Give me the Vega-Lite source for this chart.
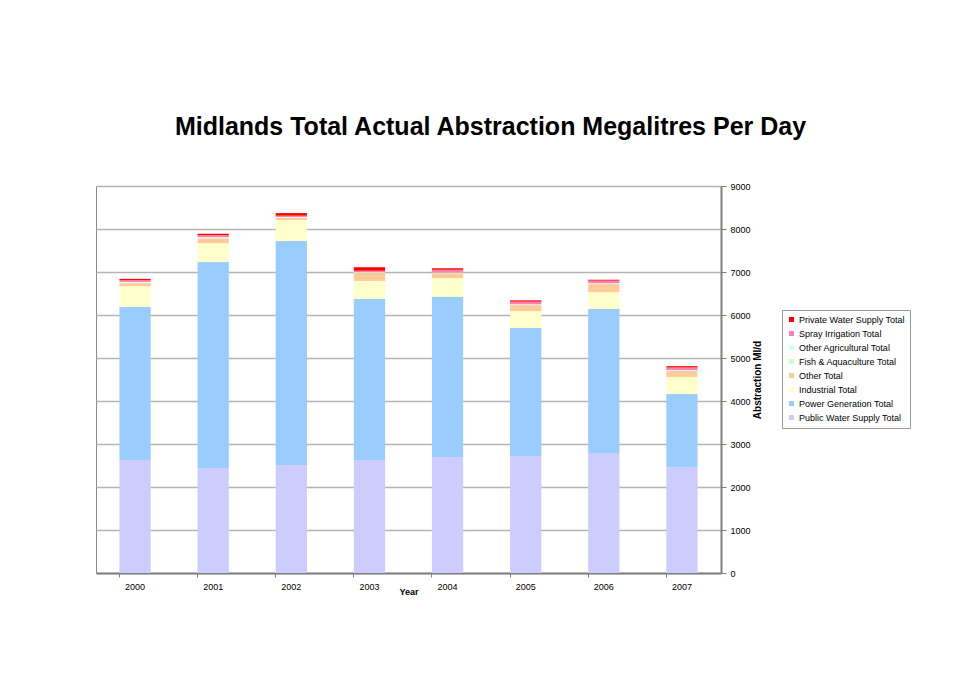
{
  "$schema": "https://vega.github.io/schema/vega-lite/v6.json",
  "autosize": "none",
  "width": 625,
  "height": 387,
  "padding": {"left": 96, "top": 186, "right": 240, "bottom": 113},
  "background": "white",
  "config": {
    "font": "Liberation Sans",
    "view": {"stroke": "#8c8c8c", "strokeWidth": 1}
  },
  "title": {
    "text": "Midlands Total Actual Abstraction Megalitres Per Day",
    "font": "Liberation Sans",
    "fontSize": 25,
    "fontWeight": "bold",
    "color": "black",
    "anchor": "middle",
    "frame": "group",
    "dx": 82,
    "offset": 42
  },
  "data": {
    "values": [
      {"Year": "2000", "Public Water Supply Total": 2630, "Power Generation Total": 3560, "Industrial Total": 480, "Other Total": 70, "Fish & Aquaculture Total": 10, "Other Agricultural Total": 20, "Spray Irrigation Total": 40, "Private Water Supply Total": 30},
      {"Year": "2001", "Public Water Supply Total": 2440, "Power Generation Total": 4790, "Industrial Total": 440, "Other Total": 110, "Fish & Aquaculture Total": 20, "Other Agricultural Total": 10, "Spray Irrigation Total": 50, "Private Water Supply Total": 30},
      {"Year": "2002", "Public Water Supply Total": 2510, "Power Generation Total": 5210, "Industrial Total": 490, "Other Total": 50, "Fish & Aquaculture Total": 10, "Other Agricultural Total": 10, "Spray Irrigation Total": 30, "Private Water Supply Total": 60},
      {"Year": "2003", "Public Water Supply Total": 2630, "Power Generation Total": 3740, "Industrial Total": 420, "Other Total": 190, "Fish & Aquaculture Total": 10, "Other Agricultural Total": 10, "Spray Irrigation Total": 30, "Private Water Supply Total": 80},
      {"Year": "2004", "Public Water Supply Total": 2700, "Power Generation Total": 3720, "Industrial Total": 440, "Other Total": 110, "Fish & Aquaculture Total": 10, "Other Agricultural Total": 10, "Spray Irrigation Total": 60, "Private Water Supply Total": 40},
      {"Year": "2005", "Public Water Supply Total": 2720, "Power Generation Total": 2980, "Industrial Total": 390, "Other Total": 140, "Fish & Aquaculture Total": 10, "Other Agricultural Total": 10, "Spray Irrigation Total": 60, "Private Water Supply Total": 30},
      {"Year": "2006", "Public Water Supply Total": 2790, "Power Generation Total": 3350, "Industrial Total": 390, "Other Total": 190, "Fish & Aquaculture Total": 10, "Other Agricultural Total": 10, "Spray Irrigation Total": 60, "Private Water Supply Total": 20},
      {"Year": "2007", "Public Water Supply Total": 2460, "Power Generation Total": 1700, "Industrial Total": 400, "Other Total": 140, "Fish & Aquaculture Total": 10, "Other Agricultural Total": 10, "Spray Irrigation Total": 60, "Private Water Supply Total": 30}
    ]
  },
  "transform": [
    {"fold": ["Public Water Supply Total", "Power Generation Total", "Industrial Total", "Other Total", "Fish & Aquaculture Total", "Other Agricultural Total", "Spray Irrigation Total", "Private Water Supply Total"], "as": ["Series", "Value"]},
    {"calculate": "indexof(['Public Water Supply Total', 'Power Generation Total', 'Industrial Total', 'Other Total', 'Fish & Aquaculture Total', 'Other Agricultural Total', 'Spray Irrigation Total', 'Private Water Supply Total'], datum.Series)", "as": "StackOrder"}
  ],
  "mark": {"type": "bar"},
  "encoding": {
    "x": {
      "field": "Year",
      "type": "ordinal",
      "scale": {"paddingInner": 0.6, "paddingOuter": 0.3},
      "axis": {
        "title": "Year",
        "labelAngle": 0,
        "labelFontSize": 9,
        "labelColor": "black",
        "labelPadding": 5,
        "titleFontSize": 9,
        "titleFontWeight": "bold",
        "titleColor": "black",
        "titlePadding": -4,
        "bandPosition": 0,
        "domainColor": "#808080",
        "domainWidth": 2,
        "tickColor": "#808080",
        "tickSize": 4,
        "grid": false
      }
    },
    "y": {
      "field": "Value",
      "type": "quantitative",
      "aggregate": "sum",
      "stack": "zero",
      "scale": {"domain": [0, 9000], "nice": false},
      "axis": {
        "orient": "right",
        "title": "Abstraction Ml/d",
        "titleAngle": 270,
        "titleFontSize": 10,
        "titleFontWeight": "bold",
        "titleColor": "black",
        "titlePadding": 12,
        "format": "d",
        "values": [0, 1000, 2000, 3000, 4000, 5000, 6000, 7000, 8000, 9000],
        "labelFontSize": 9,
        "labelColor": "black",
        "labelPadding": 4,
        "domainColor": "#808080",
        "domainWidth": 2,
        "tickColor": "#808080",
        "tickSize": 5,
        "gridColor": "#b4b4b4",
        "gridWidth": 1.5
      }
    },
    "color": {
      "field": "Series",
      "type": "nominal",
      "sort": ["Private Water Supply Total", "Spray Irrigation Total", "Other Agricultural Total", "Fish & Aquaculture Total", "Other Total", "Industrial Total", "Power Generation Total", "Public Water Supply Total"],
      "scale": {
        "domain": ["Private Water Supply Total", "Spray Irrigation Total", "Other Agricultural Total", "Fish & Aquaculture Total", "Other Total", "Industrial Total", "Power Generation Total", "Public Water Supply Total"],
        "range": ["#ff0000", "#ff7fae", "#ccffff", "#ccffcc", "#ffcc99", "#ffffcc", "#99ccff", "#ccccff"]
      },
      "legend": {
        "title": null,
        "orient": "none",
        "legendX": 686,
        "legendY": 124,
        "symbolType": "square",
        "symbolSize": 25,
        "symbolStrokeWidth": 0,
        "labelFontSize": 9,
        "labelColor": "black",
        "rowPadding": 4,
        "strokeColor": "#999999",
        "padding": 5,
        "labelOffset": 3
      }
    },
    "order": {"field": "StackOrder", "type": "quantitative", "sort": "ascending"}
  }
}
